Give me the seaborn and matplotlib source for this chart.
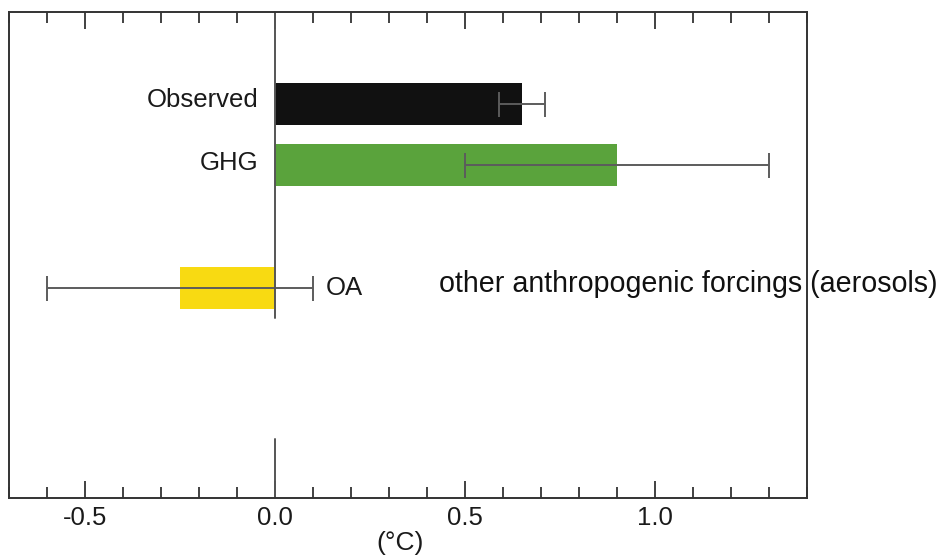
import matplotlib
matplotlib.use("Agg")
import matplotlib.pyplot as plt
import seaborn as sns
import pandas as pd
from matplotlib.ticker import MultipleLocator

# ---- data ----
names = ["Observed", "GHG", "OA"]
positions = [0, 1, 3]
values = [0.65, 0.90, -0.25]
err_low = [0.59, 0.50, -0.60]
err_high = [0.71, 1.30, 0.10]
colors = ["#111111", "#5aa33c", "#f8da12"]
xticks = [-0.5, 0.0, 0.5, 1.0]
xticklabels = ["-0.5", "0.0", "0.5", "1.0"]
xlabel = "(°C)"
note = "other anthropogenic forcings (aerosols)"

sns.set_theme(style="white")
plt.rcParams["font.family"] = ["Liberation Sans", "DejaVu Sans"]
plt.rcParams["axes.unicode_minus"] = False

df = pd.DataFrame({"name": names, "pos": positions, "value": values})

fig = plt.figure(figsize=(9.46, 5.56), dpi=100)
ax = fig.add_axes([0.010, 0.1043, 0.8427, 0.874])

sns.barplot(data=df, x="value", y="pos", hue="name", orient="h",
            native_scale=True, dodge=False, width=0.68,
            palette=dict(zip(names, colors)), legend=False,
            saturation=1, ax=ax, linewidth=0)

# error bars
for p, v, lo, hi in zip(positions, values, err_low, err_high):
    ax.errorbar([v], [p], xerr=[[v - lo], [hi - v]], fmt="none",
                ecolor="#5c5c5c", elinewidth=1.4, capsize=9, capthick=1.4,
                zorder=3)

ax.set_xlim(-0.7, 1.4)
ax.set_ylim(6.41, -1.49)

# broken zero line
ax.axvline(0, ymin=0.370, ymax=1.0, color="#555555", lw=1.4, zorder=4)
ax.axvline(0, ymin=0.0, ymax=0.121, color="#555555", lw=1.4, zorder=4)

# ticks
ax.set_xticks(xticks)
ax.set_xticklabels(xticklabels)
ax.xaxis.set_minor_locator(MultipleLocator(0.1))
ax.tick_params(axis="x", which="major", direction="in", length=12, width=1.3,
               color="#333333", top=True, bottom=True, labelsize=18.5, pad=6,
               labelcolor="#1a1a1a")
ax.tick_params(axis="x", which="minor", direction="in", length=8, width=1.3,
               color="#333333", top=True, bottom=True)
ax.set_yticks([])
ax.set_ylabel("")
ax.set_xlabel("")

for s in ax.spines.values():
    s.set_color("#333333")
    s.set_linewidth(1.4)
    s.set_visible(True)
    s.set_zorder(5)

# labels
ax.text(-0.045, 0.05, names[0], ha="right", va="baseline", fontsize=18.5, color="#1a1a1a")
ax.text(-0.045, 1.08, names[1], ha="right", va="baseline", fontsize=18.5, color="#1a1a1a")
ax.text(0.134, 3.11, names[2], ha="left", va="baseline", fontsize=18.5, color="#1a1a1a")
ax.text(0.432, 3.065, note, ha="left", va="baseline", fontsize=20.6, color="#111111",
        zorder=1, clip_on=False)

fig.text(400 / 946, 1 - 543 / 556, xlabel, ha="center", va="center", fontsize=19,
         color="#1a1a1a")

fig.savefig("out.png", dpi=100)
